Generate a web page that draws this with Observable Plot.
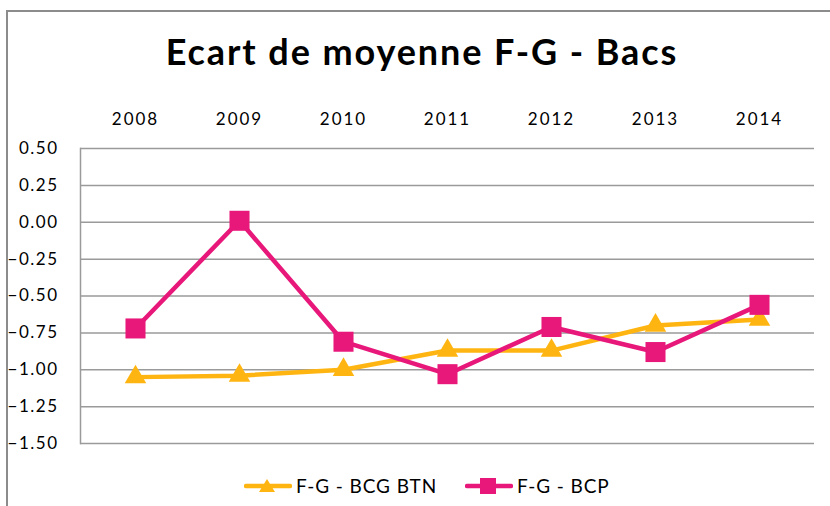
<!DOCTYPE html>
<html>
<head>
<meta charset="utf-8">
<script src="https://cdn.jsdelivr.net/npm/d3@7"></script>
<script src="https://cdn.jsdelivr.net/npm/@observablehq/plot@0.6"></script>
<style>
  html, body { margin: 0; padding: 0; background: #fff; }
  #wrap { position: relative; width: 830px; height: 506px; overflow: hidden; font-family: Lato, "Open Sans", sans-serif; }
  #border { position: absolute; left: 6px; top: 10px; right: -10px; bottom: -10px; border-left: 2px solid #8c8c8c; border-top: 2px solid #8c8c8c; }
  #title { position: absolute; left: 0; width: 844px; top: 29px; text-align: center; font-size: 36px; letter-spacing: 1.9px; font-weight: bold; color: #000; }
  #chart { position: absolute; left: 0; top: 90px; }
  #chart g[aria-label="x-axis tick label"] text { letter-spacing: 2px; }
  #chart g[aria-label="y-axis tick label"] text { letter-spacing: 1.5px; }
  #legend { position: absolute; left: 0; top: 462px; width: 830px; height: 40px; }
  .li { position: absolute; top: 6px; display: flex; align-items: center; font-size: 19px; letter-spacing: 0.9px; color: #000; }
  .li svg { margin-right: 4px; }
</style>
</head>
<body>
<div id="wrap">
  <div id="border"></div>
  <div id="title">Ecart de moyenne F-G - Bacs</div>
  <div id="chart"></div>
  <div id="legend"></div>
</div>
<script>
const years = ["2008", "2009", "2010", "2011", "2012", "2013", "2014"];
const seriesNames = ["F-G - BCG BTN", "F-G - BCP"];
const bcgBtn = [-1.05, -1.04, -1.00, -0.87, -0.87, -0.70, -0.66];
const bcp = [-0.72, 0.01, -0.81, -1.03, -0.71, -0.88, -0.56];
const yTicks = [0.5, 0.25, 0, -0.25, -0.5, -0.75, -1.0, -1.25, -1.5];
const colors = ["#FFB511", "#E8177A"];
const symbols = ["triangle", "square"];

const data = [];
years.forEach((y, i) => {
  data.push({year: y, value: bcgBtn[i], series: seriesNames[0]});
  data.push({year: y, value: bcp[i], series: seriesNames[1]});
});

const chart = Plot.plot({
  width: 830,
  height: 370,
  marginTop: 58,
  marginBottom: 17,
  marginLeft: 80,
  marginRight: 16,
  style: {fontFamily: "Lato, 'Open Sans', sans-serif", fontSize: "17px", color: "#000", background: "transparent", overflow: "visible"},
  x: {type: "point", domain: years, padding: 0.5, axis: null},
  y: {domain: [-1.5, 0.5], axis: null},
  color: {domain: seriesNames, range: colors},
  symbol: {domain: seriesNames, range: symbols},
  marks: [
    Plot.gridY(yTicks, {stroke: "#9a9a9a", strokeOpacity: 1, strokeWidth: 1.5}),
    Plot.frame({anchor: "left", stroke: "#9a9a9a", strokeWidth: 1.5}),
    Plot.axisX(years, {anchor: "top", label: null, tickSize: 0, tickPadding: 24, fontSize: 17, dx: 0}),
    Plot.axisY(yTicks, {anchor: "left", label: null, tickSize: 0, tickPadding: 22, tickFormat: d3.format(".2f"), fontSize: 17}),
    Plot.line(data.filter(d => d.series === seriesNames[0]), {x: "year", y: "value", stroke: colors[0], strokeWidth: 4.5}),
    Plot.dot(data.filter(d => d.series === seriesNames[0]), {x: "year", y: "value", symbol: "series", fill: colors[0], r: 8}),
    Plot.line(data.filter(d => d.series === seriesNames[1]), {x: "year", y: "value", stroke: colors[1], strokeWidth: 4.5}),
    Plot.dot(data.filter(d => d.series === seriesNames[1]), {x: "year", y: "value", symbol: "series", fill: colors[1], r: 11.3})
  ]
});
document.getElementById("chart").appendChild(chart);

// legend
const legend = document.getElementById("legend");
const lefts = [244, 465];
seriesNames.forEach((name, i) => {
  const item = document.createElement("div");
  item.className = "li";
  item.style.left = lefts[i] + "px";
  const sym = i === 0
    ? `<polygon points="23,11 31,24 15,24" fill="${colors[i]}"/>`
    : `<rect x="15" y="10" width="16" height="16" fill="${colors[i]}"/>`;
  item.innerHTML = `<svg width="48" height="34" viewBox="0 0 48 34"><line x1="2" y1="18" x2="46" y2="18" stroke="${colors[i]}" stroke-width="4.5" stroke-linecap="round"/>${sym}</svg><span>${name}</span>`;
  legend.appendChild(item);
});
</script>
</body>
</html>
